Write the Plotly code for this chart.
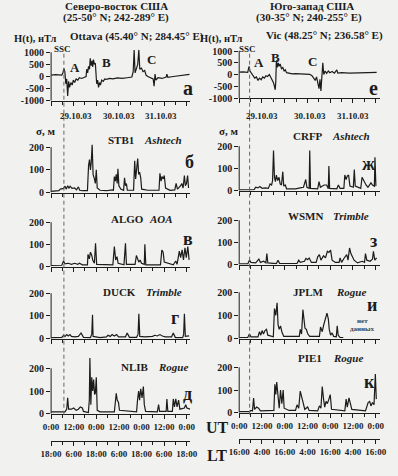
import plotly.graph_objects as go

W, H = 398, 476
FONT = "Liberation Serif"
INK = "#1c1c1c"
BG = "#f1f1ef"

# ---------------- data (hours after 29.10.03 0:00 UT) ----------------
OTT_H = [0, 2.4, 5.7, 6.3, 6.8, 7.3, 7.8, 8.3, 8.8, 9.3, 9.8, 10.5, 11.2, 11.8, 12.5, 13.3, 14.2, 15.0, 16.2, 17.6,
         18.6, 18.9, 19.4, 19.9, 20.4, 20.8, 21.3, 21.8, 22.1, 22.5, 23.0, 23.5, 23.8, 24.2, 24.7, 25.2, 25.7, 26.2,
         26.9, 27.7, 28.5, 29.4, 31.1, 32.8, 35.3, 37.8, 40.4, 42.1, 42.9, 43.6, 44.1, 44.6, 45.3, 46.0, 46.6, 47.1,
         48.0, 48.8, 49.7, 50.5, 51.4, 53.0, 54.2, 54.7, 55.2, 55.7, 56.8, 59.0, 61.1, 61.5, 62.0, 64.9, 68.2, 71.6, 73.5]
OTT_V = [60, 80, 60, 150, 340, 200, -300, -100, -800, -200, -450, -250, -350, -150, -250, -100, -150, -50, -80, -20,
         0, 300, 150, 420, 300, 750, 450, 650, 400, 700, 500, 550, 200, -300, -150, -450, -250, -350,
         -150, -200, -100, -120, -80, -100, -60, -80, -50, -40, -20, 200, 1100, 150, 300, 500, 1100, 300,
         350, 200, 250, 50, 0, -50, -100, -400, 100, -150, -50, -80, -20, 100, -30, 0, 30, 60, 90]

VIC_H = [0, 2.0, 4.5, 4.9, 5.2, 5.7, 6.5, 7.4, 8.2, 9.1, 9.9, 10.7, 11.6, 12.4, 13.3, 14.1, 14.9, 15.9, 16.6, 17.4,
         18.1, 18.6, 19.0, 19.3, 19.6, 20.1, 20.6, 21.1, 21.6, 22.3, 23.0, 23.7, 24.3, 25.0, 26.3, 28.0, 29.7, 32.2,
         34.7, 37.2, 38.4, 39.3, 40.1, 40.8, 41.4, 42.1, 42.6, 43.1, 43.6, 44.1, 44.6, 45.3, 46.1, 47.0, 47.8, 49.0,
         50.2, 51.5, 52.0, 54.0, 58.2, 63.3, 68.3, 72.5]
VIC_V = [100, 110, 90, 200, 350, 150, 50, -50, -150, -100, -250, -150, -220, -100, -150, -50, -80, 0, -100, -200,
         -350, -500, -650, -300, 600, 300, 500, 350, 450, 250, 300, 150, 200, 80, 60, 30, 40, 20,
         30, 10, -50, -150, -250, -100, -300, -600, -200, -700, -100, 500, 0, 150, 50, 150, 80, 130,
         60, 200, 60, 80, 60, 70, 80, 90]

STB1_H = [0, 4.1, 4.9, 6.6, 7.4, 8.1, 8.8, 9.5, 10.1, 11.1, 12.5, 13.5, 14.5, 15.2, 16.7, 19.3, 19.9, 20.4, 20.9,
          21.3, 21.8, 22.3, 23.0, 23.5, 24.0, 24.5, 26.0, 29.4, 32.4, 33.1, 33.6, 34.1, 34.6, 35.1, 35.5, 36.0, 37.0,
          38.5, 39.0, 39.5, 40.0, 40.5, 43.8, 44.4, 44.9, 45.4, 46.0, 46.5, 47.0, 47.6, 48.1, 51.4, 57.3, 57.8, 58.4,
          58.9, 59.6, 60.1, 60.8, 63.2, 65.7, 66.4, 67.1, 68.8, 69.4, 70.1, 70.8, 71.3, 71.9, 72.5, 73.0]
STB1_V = [5, 8, 15, 18, 28, 15, 30, 20, 28, 18, 20, 12, 25, 10, 8, 8, 120, 145, 100,
          130, 210, 80, 60, 40, 100, 20, 10, 8, 12, 10, 70, 50, 80, 40, 105, 30, 15,
          10, 65, 30, 40, 10, 10, 140, 60, 100, 150, 80, 90, 65, 15, 10, 10, 85, 50,
          70, 60, 75, 20, 10, 12, 40, 15, 30, 40, 20, 75, 30, 40, 75, 20]

ALGO_H = [0, 5.7, 6.6, 7.4, 9.1, 10.8, 12.5, 14.2, 15.0, 16.7, 19.3, 19.6, 20.3, 20.9, 21.6, 22.1, 23.0, 23.6, 24.2,
          27.7, 32.8, 33.6, 34.3, 35.0, 35.6, 38.7, 39.5, 40.0, 44.6, 45.3, 46.0, 46.6, 47.3, 48.0, 49.5, 49.8, 50.3,
          58.1, 58.8, 59.5, 60.1, 64.9, 66.2, 66.9, 68.1, 68.8, 69.6, 70.3, 71.1, 71.8, 72.6, 73.3]
ALGO_V = [5, 6, 25, 12, 15, 10, 15, 10, 15, 8, 8, 55, 35, 65, 50, 30, 15, 105, 10,
          8, 8, 90, 30, 45, 15, 8, 105, 10, 10, 50, 35, 20, 30, 15, 10, 100, 8,
          8, 75, 65, 20, 8, 25, 10, 70, 40, 75, 30, 85, 40, 90, 30]

DUCK_H = [0, 5.7, 6.6, 7.4, 8.3, 9.1, 10.0, 10.8, 12.5, 14.5, 15.9, 17.2, 20.9, 21.6, 22.0, 22.3, 26.0, 29.4, 30.2,
          31.4, 32.4, 33.6, 34.8, 35.8, 39.5, 40.4, 41.6, 45.4, 46.2, 46.6, 47.1, 49.7, 53.9, 55.1, 56.4, 57.8, 59.1,
          60.6, 64.0, 64.9, 66.0, 69.9, 70.4, 70.8, 71.3, 73.3]
DUCK_V = [5, 6, 15, 10, 18, 12, 18, 10, 8, 10, 25, 6, 5, 20, 105, 10, 5, 8, 15,
          10, 18, 12, 18, 8, 8, 25, 6, 6, 20, 110, 10, 8, 10, 15, 12, 18, 12,
          8, 8, 25, 5, 5, 20, 110, 10, 12]

NLIB_H = [0, 7.4, 8.3, 8.8, 9.3, 10.8, 12.0, 13.3, 14.5, 15.5, 16.6, 17.2, 19.8, 20.3, 20.6, 21.1, 21.6, 22.1, 22.6,
          23.1, 23.5, 24.0, 24.5, 26.0, 33.6, 34.1, 34.6, 35.1, 35.8, 36.3, 45.4, 45.9, 46.5, 47.0, 47.6, 48.3, 49.0,
          49.5, 50.2, 56.4, 57.1, 57.6, 61.1, 61.5, 62.0, 64.4, 64.9, 65.5, 66.2, 66.9, 67.7, 68.4, 70.8, 71.5, 72.1,
          73.8]
NLIB_V = [8, 8, 20, 70, 20, 20, 25, 15, 20, 30, 25, 10, 5, 60, 245, 40, 160, 100, 150,
          85, 90, 160, 15, 8, 8, 60, 90, 60, 50, 15, 8, 60, 100, 60, 110, 70, 120,
          40, 10, 8, 40, 10, 10, 65, 10, 10, 65, 30, 65, 30, 60, 20, 25, 40, 25,
          20]

CRFP_H = [0, 7.9, 8.7, 9.9, 10.9, 12.1, 13.8, 15.4, 16.3, 17.1, 17.6, 18.1, 18.6, 19.1, 19.6, 20.3, 21.0, 21.6, 22.3,
          23.0, 23.5, 24.3, 25.0, 29.7, 32.2, 33.9, 35.1, 35.7, 36.9, 37.2, 37.6, 41.4, 42.1, 42.8, 44.8, 46.1, 47.0,
          47.3, 47.7, 51.5, 52.3, 53.2, 55.2, 55.7, 56.4, 57.0, 57.7, 58.4, 60.2, 60.7, 61.2, 64.1, 64.8, 65.4, 66.1,
          66.9, 67.9, 69.5, 70.3, 71.3, 71.6, 72.1]
CRFP_V = [3, 4, 15, 12, 18, 10, 12, 10, 30, 25, 45, 180, 60, 40, 70, 45, 60, 30, 25,
          85, 20, 25, 8, 8, 12, 15, 50, 15, 10, 180, 10, 8, 40, 15, 25, 25, 8,
          110, 10, 8, 25, 10, 10, 70, 50, 65, 70, 20, 15, 95, 20, 10, 60, 50, 35,
          25, 15, 35, 25, 20, 150, 20]

WSMN_H = [0, 4.5, 5.4, 6.2, 8.7, 10.4, 11.2, 12.9, 14.1, 14.6, 15.1, 19.6, 20.5, 21.3, 30.5, 31.4, 32.2, 34.4, 35.2,
          36.1, 36.9, 38.1, 40.6, 41.4, 42.3, 43.1, 44.5, 45.5, 46.5, 47.3, 48.2, 49.0, 50.7, 52.7, 53.2, 54.0, 55.4,
          56.0, 56.7, 57.4, 58.2, 58.9, 59.6, 60.6, 62.4, 64.9, 66.1, 66.6, 67.3, 69.1, 70.3, 70.8, 71.5, 72.5]
WSMN_V = [3, 3, 20, 10, 8, 25, 10, 15, 8, 50, 8, 5, 20, 5, 5, 20, 10, 15, 28,
          22, 30, 10, 10, 35, 45, 20, 40, 30, 60, 55, 65, 20, 10, 10, 30, 10, 30,
          40, 45, 20, 75, 50, 40, 20, 8, 15, 10, 50, 20, 15, 25, 60, 20, 30]

JPLM_H = [0, 4.5, 5.4, 6.2, 9.9, 10.7, 11.4, 12.1, 12.8, 13.6, 14.4, 15.1, 18.0, 18.6, 19.3, 20.0, 20.5, 21.1, 21.8,
          22.5, 23.5, 29.7, 31.7, 32.2, 32.9, 33.6, 34.1, 34.7, 35.4, 36.2, 37.2, 42.3, 42.9, 43.8, 44.6, 45.5, 46.3,
          47.0, 47.5, 48.2, 49.0, 49.8, 51.2, 51.7, 52.2, 53.2, 54.9]
JPLM_V = [5, 5, 20, 8, 8, 30, 15, 35, 20, 35, 40, 15, 8, 130, 100, 155, 60, 40, 55,
          30, 10, 10, 10, 40, 20, 125, 70, 45, 40, 20, 10, 10, 50, 30, 60, 90, 110,
          85, 40, 15, 25, 10, 8, 55, 15, 5, 5]

PIE1_H = [0, 5.4, 6.2, 7.0, 7.6, 8.1, 9.2, 10.2, 11.2, 17.1, 18.3, 18.8, 19.3, 19.8, 20.5, 21.1, 21.8, 22.5, 23.2,
          23.7, 26.3, 29.7, 30.5, 31.4, 32.2, 32.9, 33.7, 34.6, 36.1, 36.9, 41.4, 42.3, 43.1, 43.8, 44.5, 45.1, 45.8,
          46.5, 47.3, 48.0, 48.7, 55.7, 56.4, 57.0, 57.9, 58.6, 59.4, 66.6, 67.3, 68.0, 68.8, 69.5, 70.3, 71.1, 71.8,
          72.3]
PIE1_V = [5, 5, 10, 8, 65, 15, 25, 20, 8, 8, 10, 125, 80, 135, 50, 20, 100, 40, 100,
          20, 10, 10, 35, 20, 95, 70, 40, 15, 25, 10, 8, 30, 20, 115, 60, 25, 50,
          40, 60, 80, 15, 8, 60, 25, 65, 40, 15, 8, 30, 45, 50, 30, 45, 35, 170,
          60]

UT_TICKS = [0, 12, 24, 36, 48, 60, 72]
UT_LABELS = ["0:00", "12:00", "0:00", "12:00", "0:00", "12:00", "0:00"]
LT_LABELS_L = ["18:00", "6:00", "18:00", "6:00", "18:00", "6:00", "18:00"]
LT_LABELS_R = ["16:00", "4:00", "16:00", "4:00", "16:00", "4:00", "16:00"]
MINOR_TICKS = [6, 18, 30, 42, 54, 66]
H_TICKS = [-1000, -500, 0, 500, 1000]
S_TICKS = [0, 100, 200]
SSC_HOUR = {"L": 6.8, "R": 5.5}

# ---------------- layout helpers ----------------
def fy(px):
    return 1 - px / H


def fx(px):
    return px / W


COLS = {"L": (42, 1.972), "R": (239, 1.986)}
XMAX = 74

panels = [
    dict(n=1, col="L", h=OTT_H, v=OTT_V, lo=-1000, hi=1000, top=1300, ylo=102, yhi=53, ticks=H_TICKS),
    dict(n=2, col="L", h=STB1_H, v=STB1_V, lo=0, hi=200, top=265, ylo=195, yhi=149, ticks=S_TICKS),
    dict(n=3, col="L", h=ALGO_H, v=ALGO_V, lo=0, hi=200, top=265, ylo=270, yhi=225, ticks=S_TICKS),
    dict(n=4, col="L", h=DUCK_H, v=DUCK_V, lo=0, hi=200, top=265, ylo=343, yhi=297, ticks=S_TICKS),
    dict(n=5, col="L", h=NLIB_H, v=NLIB_V, lo=0, hi=200, top=265, ylo=419, yhi=373, ticks=S_TICKS, labels=True),
    dict(n=6, col="R", h=VIC_H, v=VIC_V, lo=-1000, hi=1000, top=1300, ylo=99.3, yhi=51.7, ticks=H_TICKS),
    dict(n=7, col="R", h=CRFP_H, v=CRFP_V, lo=0, hi=200, top=265, ylo=193, yhi=148, ticks=S_TICKS),
    dict(n=8, col="R", h=WSMN_H, v=WSMN_V, lo=0, hi=200, top=265, ylo=268, yhi=223, ticks=S_TICKS),
    dict(n=9, col="R", h=JPLM_H, v=JPLM_V, lo=0, hi=200, top=265, ylo=343, yhi=296, ticks=S_TICKS),
    dict(n=10, col="R", h=PIE1_H, v=PIE1_V, lo=0, hi=200, top=265, ylo=418, yhi=372, ticks=S_TICKS, labels=True),
]

tickfont = dict(family=FONT, size=10, color=INK, weight="bold")
utfont = dict(family=FONT, size=9, color=INK, weight="bold")

fig = go.Figure()
layout = {}
shapes = []


def sfx(n):
    return "" if n == 1 else str(n)


def xdomain(col):
    x0, pph = COLS[col]
    return [fx(x0), fx(x0 + XMAX * pph)]


for p in panels:
    n = p["n"]
    s = sfx(n)
    unit = (p["ylo"] - p["yhi"]) / (p["hi"] - p["lo"])
    ydom = [fy(p["ylo"]), fy(p["ylo"] - (p["top"] - p["lo"]) * unit)]
    fig.add_trace(go.Scatter(x=p["h"], y=p["v"], mode="lines", line=dict(color=INK, width=1.2),
                             xaxis="x" + s, yaxis="y" + s, showlegend=False, hoverinfo="skip"))
    show_lbl = p.get("labels", False)
    layout["xaxis" + s] = dict(
        domain=xdomain(p["col"]), range=[0, XMAX], anchor="y" + s,
        showline=True, linecolor=INK, linewidth=1, showgrid=False, zeroline=False,
        tickmode="array", tickvals=UT_TICKS, ticktext=UT_LABELS, ticks="outside", ticklen=4,
        tickcolor=INK, tickwidth=1, showticklabels=show_lbl, tickfont=utfont,
        minor=dict(tickvals=MINOR_TICKS, ticks="outside", ticklen=3, tickcolor=INK, tickwidth=1),
    )
    layout["yaxis" + s] = dict(
        domain=ydom, range=[p["lo"], p["top"]], anchor="x" + s,
        showline=False, showgrid=False, zeroline=False,
        tickmode="array", tickvals=p["ticks"], ticktext=[str(t) for t in p["ticks"]],
        ticks="outside", ticklen=4, tickcolor=INK, tickwidth=1, tickfont=tickfont,
    )
    shapes.append(dict(type="line", xref="x" + s + " domain", x0=0, x1=0, yref="y" + s,
                       y0=p["lo"], y1=p["hi"], line=dict(color=INK, width=1)))

# LT axes
for n, col, lab, ypx in [(11, "L", LT_LABELS_L, 447), (12, "R", LT_LABELS_R, 445)]:
    s = str(n)
    fig.add_trace(go.Scatter(x=[0, XMAX], y=[0, 0], mode="lines", line=dict(width=0), opacity=0,
                             xaxis="x" + s, yaxis="y" + s, showlegend=False, hoverinfo="skip"))
    layout["xaxis" + s] = dict(
        domain=xdomain(col), range=[0, XMAX], anchor="y" + s,
        showline=True, linecolor=INK, linewidth=1, showgrid=False, zeroline=False,
        tickmode="array", tickvals=UT_TICKS, ticktext=lab, ticks="outside", ticklen=4,
        tickcolor=INK, tickwidth=1, tickfont=utfont,
        minor=dict(tickvals=MINOR_TICKS, ticks="outside", ticklen=3, tickcolor=INK, tickwidth=1),
    )
    layout["yaxis" + s] = dict(domain=[fy(ypx), fy(ypx) + 0.004], range=[0, 1], anchor="x" + s,
                               visible=False)

# SSC dashed lines
for col, xr in [("L", "x"), ("R", "x6")]:
    shapes.append(dict(type="line", xref=xr, x0=SSC_HOUR[col], x1=SSC_HOUR[col], yref="paper",
                       y0=fy(420), y1=fy(53), line=dict(color="#666666", width=1, dash="4px,3px")))

annotations = []


def ann(text, x, y, size, bold=True, italic=False, color=INK):
    t = text
    if italic:
        t = "<i>" + t + "</i>"
    if bold:
        t = "<b>" + t + "</b>"
    annotations.append(dict(text=t, x=fx(x), y=fy(y), xref="paper", yref="paper", showarrow=False,
                            xanchor="center", yanchor="middle", borderpad=0,
                            font=dict(family=FONT, size=size, color=color)))


ann("Северо-восток США", 110, 6.5, 11)
ann("(25-50° N; 242-289° E)", 110, 18, 11)
ann("Юго-запад США", 315, 6.5, 11)
ann("(30-35° N; 240-255° E)", 312, 18, 11)
ann("H(t), нТл", 25, 40, 10.5)
ann("Ottava (45.40° N; 284.45° E)", 132, 37, 11)
ann("H(t), нТл", 220, 40, 10.5)
ann("Vic (48.25° N; 236.58° E)", 328, 36, 11)
ann("SSC", 54, 50, 9)
ann("SSC", 248, 50, 9)
for t, x, y in [("A", 67, 68), ("B", 100, 63), ("C", 147, 60), ("A", 260, 63), ("B", 277, 58), ("C", 316, 62)]:
    ann(t, x, y, 13)
for t, x in [("29.10.03", 68), ("30.10.03", 113), ("31.10.03", 157),
             ("29.10.03", 263), ("30.10.03", 313), ("31.10.03", 358)]:
    ann(t, x, 117, 9)
ann("σ, м", 36, 133, 11)
ann("σ, м", 228, 133, 11)

stations = [("STB1", 115, 142, "Ashtech", 159), ("ALGO", 122, 222, "AOA", 157),
            ("DUCK", 114, 296, "Trimble", 160), ("NLIB", 130, 372, "Rogue", 170),
            ("CRFP", 311, 138, "Ashtech", 356), ("WSMN", 309, 219, "Trimble", 356),
            ("JPLM", 312, 296, "Rogue", 356), ("PIE1", 313, 363, "Rogue", 353)]
for name, x, y, rec, xr in stations:
    ann(name, x, y, 11)
    ann(rec, xr, y, 11, italic=True)

for t, x, y, sz in [("а", 185, 89, 20), ("е", 380, 89, 20), ("б", 187, 164, 18), ("ж", 375, 166, 18),
                    ("в", 185, 242, 18), ("з", 380, 244, 18), ("г", 172, 322, 18), ("и", 378, 309, 18),
                    ("д", 185, 399, 18), ("к", 376, 387, 18)]:
    ann(t, x, y, sz)

ann("UT", 216, 433, 16)
ann("LT", 216, 461, 16)
ann("нет", 368, 325, 7, color="#444444")
ann("данных", 368, 333, 7, color="#444444")

fig.update_layout(
    width=W, height=H, margin=dict(l=0, r=0, t=0, b=0),
    paper_bgcolor=BG, plot_bgcolor="rgba(0,0,0,0)",
    shapes=shapes, annotations=annotations, showlegend=False,
    **layout,
)

POST = ("document.documentElement.style.margin='0';document.documentElement.style.padding='0';"
        "document.documentElement.style.overflow='hidden';"
        "document.body.style.margin='0';document.body.style.padding='0';"
        "document.body.style.overflow='hidden';document.body.style.background='%s';" % BG)
fig.write_html("out.html", config={"displayModeBar": False, "staticPlot": True}, post_script=POST)
